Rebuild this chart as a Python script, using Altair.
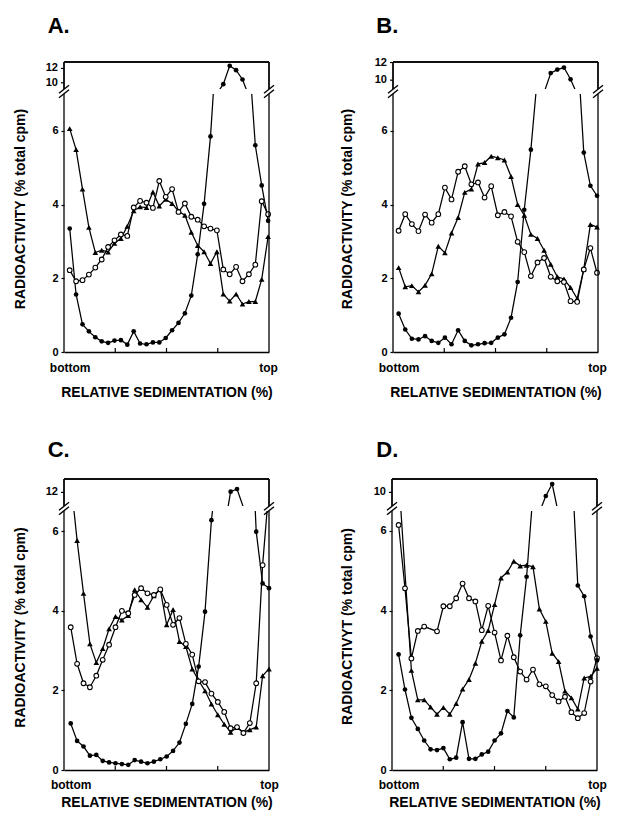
import altair as alt
import pandas as pd

# ---------------- data: radioactivity (% total cpm) per fraction, bottom -> top ----------------
A_filled = [3.35, 1.56, 0.75, 0.56, 0.40, 0.29, 0.25, 0.31, 0.32, 0.20,
            0.56, 0.23, 0.21, 0.26, 0.26, 0.38, 0.59, 0.79, 1.05, 1.53,
            2.65, 4.02, 5.85, 8.5, 9.80, 12.37, 11.76, 10.46, 8.1, 5.61,
            4.52, 3.56]
A_open = [2.22, 1.92, 1.95, 2.10, 2.29, 2.51, 2.85, 3.03, 3.19, 3.15,
          3.92, 4.10, 4.05, 3.91, 4.64, 4.21, 4.42, 3.80, 4.03, 3.67,
          3.59, 3.41, 3.35, 3.30, 2.24, 2.11, 2.31, 1.92, 2.11, 2.37,
          4.09, 3.74]
A_tri = [6.06, 5.49, 4.42, 3.38, 2.70, 2.76, 2.71, 2.95, 3.08, 3.41,
         3.83, 3.94, 3.92, 4.34, 3.96, 4.14, 4.03, 3.82, 3.71, 3.25,
         2.89, 2.72, 2.40, 2.72, 1.57, 1.38, 1.57, 1.30, 1.37, 1.37,
         1.97, 3.13]

B_filled = [1.04, 0.61, 0.36, 0.34, 0.43, 0.30, 0.25, 0.39, 0.21, 0.59,
            0.30, 0.18, 0.21, 0.24, 0.25, 0.39, 0.48, 0.93, 1.90, 3.86,
            5.49, 7.5, 8.6, 10.8, 11.2, 11.43, 10.1, 8.4, 5.41, 4.51,
            4.24]
B_open = [3.29, 3.74, 3.47, 3.28, 3.73, 3.51, 3.74, 4.46, 4.14, 4.89,
          5.04, 4.55, 4.60, 4.19, 4.50, 3.71, 3.80, 3.68, 2.99, 2.71,
          2.06, 2.43, 2.55, 2.04, 1.92, 1.90, 1.38, 1.36, 2.24, 2.82,
          2.15]
B_tri = [2.29, 1.77, 1.80, 1.63, 1.81, 2.12, 2.87, 2.69, 3.23, 3.65,
         4.33, 4.42, 5.10, 5.14, 5.31, 5.27, 5.21, 4.76, 4.00, 3.71,
         3.19, 3.08, 2.76, 2.38, 2.04, 1.98, 1.75, 1.45, 2.25, 3.46,
         3.39]

C_filled = [1.17, 0.73, 0.59, 0.36, 0.38, 0.23, 0.19, 0.17, 0.15, 0.13,
            0.25, 0.21, 0.17, 0.21, 0.27, 0.34, 0.48, 0.69, 1.16, 1.66,
            2.60, 3.98, 6.28, 7.7, 8.3, 12.07, 12.34, 10.5, 9.6, 5.99,
            4.69, 4.57]
C_open = [3.59, 2.67, 2.18, 2.08, 2.37, 2.77, 3.15, 3.59, 4.00, 3.94,
          4.40, 4.57, 4.44, 4.40, 4.54, 4.15, 3.65, 3.82, 3.17, 2.90,
          2.23, 2.21, 1.92, 1.71, 1.46, 1.05, 1.08, 0.93, 1.18, 2.18,
          5.15, 7.1]
C_tri = [7.3, 5.77, 4.44, 3.17, 2.70, 3.05, 3.55, 3.86, 3.77, 3.88,
         4.53, 4.28, 4.09, 4.38, 4.54, 3.65, 4.03, 3.23, 3.10, 2.54,
         2.25, 1.99, 1.66, 1.39, 1.15, 0.95, 1.07, 0.95, 1.01, 1.08,
         2.37, 2.54]

D_filled = [2.90, 2.02, 1.31, 1.03, 0.74, 0.52, 0.50, 0.55, 0.27, 0.31,
            1.20, 0.28, 0.28, 0.39, 0.46, 0.74, 0.92, 1.48, 1.32, 3.38,
            4.85, 6.95, 8.0, 9.64, 10.84, 7.8, 8.0, 7.9, 4.63, 4.36,
            3.35, 2.75]
D_open = [6.15, 4.56, 2.80, 3.49, 3.60, None, 3.48, 4.11, 4.11, 4.31,
          4.68, 4.31, 4.23, 3.51, 4.12, 3.45, 2.75, 3.37, 2.83, 2.47,
          2.27, 2.52, 2.15, 2.10, 1.88, 1.72, 1.84, 1.45, 1.30, 1.43,
          2.22, 2.81]
D_tri = [7.4, None, 2.50, 1.76, 1.76, 1.58, 1.40, 1.57, 1.40, 1.67,
         2.03, 2.27, 2.68, 3.23, 3.50, 4.15, 4.82, 4.97, 5.24, 5.12,
         5.14, 5.10, 4.04, 3.73, 2.93, 2.72, 1.98, 1.81, 1.53, 2.31,
         2.35, 2.55]

LOWER_TICKS = [0, 2, 4, 6]
X_LABELS = ["bottom", "top"]
X_TITLE = "RELATIVE SEDIMENTATION (%)"

# ---------------- layout / style ----------------
FONT = "Liberation Sans"
W = 205
HU = 27
GAP = 5
ONE = alt.Data(values=[{"k": 1}])

PANELS = {
    "A": dict(letter="A.", ytitle="RADIOACTIVITY (% total cpm)",
              series=(A_filled, A_open, A_tri), xdom=(-0.89, 31.14),
              low=(0, 7.0), up=(9.13, 12.9), up_ticks=[10, 12], hl=258,
              letter_xy=(-16.3, -29.2), ytitle_xy=(-36.6, 114.5),
              xlab_pad=10.2, xtitle_y=33.7),
    "B": dict(letter="B.", ytitle="RADIOACTIVITY (% total cpm)",
              series=(B_filled, B_open, B_tri), xdom=(-0.85, 30.15),
              low=(0, 7.0), up=(9.0, 12.06), up_ticks=[10, 12], hl=258,
              letter_xy=(-16.7, -29.2), ytitle_xy=(-38.4, 114.5),
              xlab_pad=10.2, xtitle_y=33.7),
    "C": dict(letter="C.", ytitle="RADIOACTIVITY (% total cpm)",
              series=(C_filled, C_open, C_tri), xdom=(-1.05, 31.0),
              low=(0, 6.51), up=(10.64, 13.34), up_ticks=[12], hl=259,
              letter_xy=(-16.3, -22.3), ytitle_xy=(-36.6, 116),
              xlab_pad=9.3, xtitle_y=25.7),
    "D": dict(letter="D.", ytitle="RADIOACTIVYT (% total cpm)",
              series=(D_filled, D_open, D_tri), xdom=(-1.03, 31.0),
              low=(0, 6.5), up=(8.64, 11.34), up_ticks=[10], hl=259,
              letter_xy=(-15.7, -22.3), ytitle_xy=(-37.4, 115),
              xlab_pad=9.3, xtitle_y=25.7),
}


def long_df(series):
    rows = []
    for name, vals in zip(["filled", "open", "tri"], series):
        for i, v in enumerate(vals):
            if v is not None:
                rows.append({"i": i, "v": v, "s": name})
    return pd.DataFrame(rows)


def seg(x1, y1, x2, y2, w=1.3):
    return alt.Chart(ONE).mark_rule(color="black", strokeWidth=w).encode(
        x=alt.value(x1), y=alt.value(y1), x2=alt.value(x2), y2=alt.value(y2))


def vline(x, y1, y2, w=1.3):
    return alt.Chart(ONE).mark_rule(color="black", strokeWidth=w).encode(
        x=alt.value(x), y=alt.value(y1), y2=alt.value(y2))


def hline(x1, x2, y, w=1.3):
    return alt.Chart(ONE).mark_rule(color="black", strokeWidth=w).encode(
        x=alt.value(x1), x2=alt.value(x2), y=alt.value(y))


def frame_rules(xscale, xaxis, xdom):
    """Left/right frame edges at the x-domain limits, through the panel's x scale."""
    return [
        alt.Chart(ONE).mark_rule(color="black", strokeWidth=1.3).encode(
            x=alt.X(datum=xdom[0], type="quantitative", scale=xscale, axis=xaxis)),
        alt.Chart(ONE).mark_rule(color="black", strokeWidth=1.3).encode(
            x=alt.X(datum=xdom[1], type="quantitative", scale=xscale, axis=xaxis)),
    ]


def data_layers(df, x, y, ydom):
    base = alt.Chart(df)
    vis = f"datum.v >= {ydom[0]} && datum.v <= {ydom[1]}"
    lines = base.mark_line(clip=True, color="black", strokeWidth=1.25).encode(
        x=x, y=y, detail="s:N", order="i:Q")
    tri = base.transform_filter(vis).transform_filter("datum.s == 'tri'").mark_point(
        shape="triangle-up", filled=True, color="black", size=32, opacity=1).encode(x=x, y=y)
    opn = base.transform_filter(vis).transform_filter("datum.s == 'open'").mark_point(
        shape="circle", filled=True, fill="white", stroke="black", strokeWidth=1.1,
        size=22, opacity=1).encode(x=x, y=y)
    fil = base.transform_filter(vis).transform_filter("datum.s == 'filled'").mark_point(
        shape="circle", filled=True, color="black", size=22, opacity=1).encode(x=x, y=y)
    return [lines, tri, opn, fil]


def panel(key):
    p = PANELS[key]
    df = long_df(p["series"])
    last = len(p["series"][0]) - 1
    xscale = alt.Scale(domain=list(p["xdom"]), nice=False, zero=False)
    hl = p["hl"]

    # ---- upper (broken) segment: labels/ticks drawn as marks through its y scale ----
    uscale = alt.Scale(domain=list(p["up"]), nice=False, zero=False)
    yu = alt.Y("v:Q", scale=uscale, axis=None)
    xu = alt.X("i:Q", scale=xscale, axis=None)
    tick_df = pd.DataFrame({"t": p["up_ticks"]})
    up_labels = alt.Chart(tick_df).mark_text(
        font=FONT, fontSize=11, fontWeight="bold", color="black", align="right",
        baseline="middle").encode(
        y=alt.Y("t:Q", scale=uscale, axis=None), x=alt.value(-6), text="t:Q")
    up_ticks = alt.Chart(tick_df).mark_rule(color="black", strokeWidth=1.2).encode(
        y=alt.Y("t:Q", scale=uscale, axis=None), x=alt.value(-3), x2=alt.value(0))
    lx, ly = p["letter_xy"]
    letter = alt.Chart(ONE).mark_text(
        text=p["letter"], font=FONT, fontSize=22, fontWeight="bold", color="black",
        align="left", baseline="alphabetic").encode(x=alt.value(lx), y=alt.value(ly))
    upper = alt.layer(
        *data_layers(df, xu, yu, p["up"]),
        *frame_rules(xscale, None, p["xdom"]),
        alt.Chart(ONE).mark_rule(color="black", strokeWidth=1.3).encode(
            y=alt.Y(datum=p["up"][1], type="quantitative", scale=uscale, axis=None)),
        up_ticks, up_labels, letter,
    ).properties(width=W, height=HU)

    # ---- lower segment ----
    tx, ty = p["ytitle_xy"]
    lscale = alt.Scale(domain=list(p["low"]), nice=False, zero=False)
    laxis_y = alt.Axis(values=LOWER_TICKS, domain=False, ticks=True, tickSize=3,
                       tickColor="black", tickWidth=1.2, labelFont=FONT,
                       labelFontSize=11, labelFontWeight="bold", labelColor="black",
                       labelPadding=3, grid=False, title=p["ytitle"],
                       titleFont=FONT, titleFontSize=14, titleFontWeight="bold",
                       titleColor="black", titleX=tx, titleY=ty)
    laxis_x = alt.Axis(values=[0, last],
                       labelExpr=f"datum.value == 0 ? '{X_LABELS[0]}' : '{X_LABELS[1]}'",
                       ticks=False, tickSize=0, domain=True, domainColor="black",
                       domainWidth=1.3, labelFont=FONT, labelFontSize=12,
                       labelFontWeight="bold", labelColor="black",
                       labelPadding=p["xlab_pad"], labelFlush=False,
                       labelOverlap=False, grid=False, title=X_TITLE,
                       titleFont=FONT, titleFontSize=14, titleFontWeight="bold",
                       titleColor="black", titleY=p["xtitle_y"])
    yl = alt.Y("v:Q", scale=lscale, axis=laxis_y)
    xl = alt.X("i:Q", scale=xscale, axis=laxis_x)
    deco = frame_rules(xscale, laxis_x, p["xdom"])
    # frame of the upper segment, repeated from the lower view (above its top edge)
    top = -(GAP + HU)
    deco += [hline(0, W, top), vline(0, top, -GAP), vline(W, top, -GAP)]
    for q in (0.25, 0.5, 0.75):
        deco.append(vline(W * q, hl - 4, hl, 1.2))
    yc = -GAP / 2.0
    for X in (0, W):
        for o in (-2.2, 2.2):
            deco.append(seg(X - 5, yc + o + 4, X + 5, yc + o - 4, 1.4))
    lower = alt.layer(*data_layers(df, xl, yl, p["low"]), *deco).properties(width=W, height=hl)

    return alt.vconcat(upper, lower, spacing=GAP, bounds="flush")


row1 = alt.hconcat(panel("A"), panel("B"), spacing=62)
row2 = alt.hconcat(panel("C"), panel("D"), spacing=61)
chart = alt.vconcat(row1, row2, spacing=38).properties(
    padding={"left": 5, "top": 6, "right": 5, "bottom": 5}
).configure_view(stroke=None)

chart.save("out.html", embed_options={"renderer": "svg", "actions": False})
